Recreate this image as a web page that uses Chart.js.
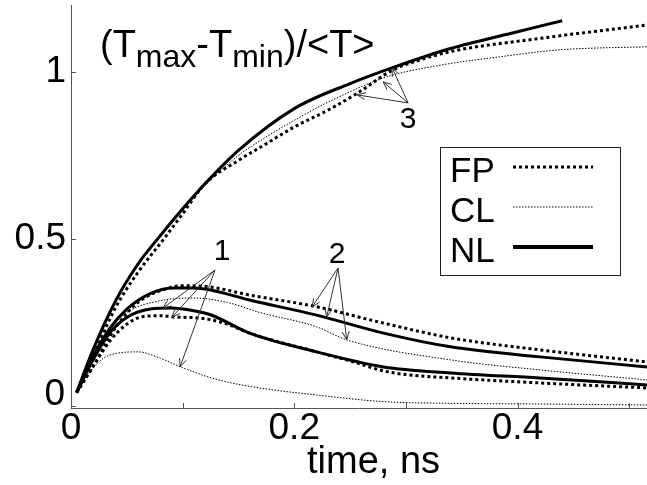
<!DOCTYPE html>
<html>
<head>
<meta charset="utf-8">
<script src="https://cdn.jsdelivr.net/npm/chart.js@4.4.0/dist/chart.umd.min.js"></script>
<style>
  html, body { margin: 0; padding: 0; background: #fff; }
  #wrap { width: 647px; height: 485px; }
</style>
</head>
<body>
<div id="wrap"><canvas id="c"></canvas></div>
<script>
const FONT = "'Liberation Sans', Arial, sans-serif";

// time in ns, value = (Tmax-Tmin)/<T>
// group 3 (upper curves)
const tNL3 = [0.005, 0.02, 0.04, 0.06, 0.08, 0.1, 0.12, 0.15, 0.2, 0.25, 0.29, 0.34, 0.4, 0.44];
const vNL3 = [0.04, 0.17, 0.315, 0.425, 0.51, 0.59, 0.665, 0.765, 0.89, 0.965, 1.015, 1.07, 1.12, 1.153];
const tFP3 = [0.005, 0.02, 0.04, 0.06, 0.082, 0.1, 0.12, 0.15, 0.175, 0.2, 0.23, 0.256, 0.288, 0.313, 0.342, 0.42, 0.516];
const vFP3 = [0.04, 0.15, 0.295, 0.40, 0.495, 0.575, 0.665, 0.735, 0.785, 0.835, 0.885, 0.935, 1.005, 1.036, 1.062, 1.10, 1.14];
const tCL3 = [0.005, 0.02, 0.04, 0.06, 0.08, 0.1, 0.12, 0.15, 0.17, 0.2, 0.232, 0.283, 0.331, 0.384, 0.438, 0.516];
const vCL3 = [0.04, 0.17, 0.315, 0.42, 0.505, 0.585, 0.66, 0.75, 0.795, 0.855, 0.912, 0.985, 1.02, 1.045, 1.066, 1.075];

// group 2
const tNL2 = [0.005, 0.02, 0.035, 0.05, 0.07, 0.092, 0.11, 0.125, 0.16, 0.22, 0.28, 0.34, 0.42, 0.516];
const vNL2 = [0.04, 0.15, 0.233, 0.29, 0.335, 0.353, 0.353, 0.347, 0.317, 0.272, 0.218, 0.177, 0.147, 0.117];
const tFP2 = [0.005, 0.02, 0.04, 0.06, 0.08, 0.1, 0.12, 0.16, 0.22, 0.28, 0.34, 0.42, 0.516];
const vFP2 = [0.04, 0.12, 0.235, 0.31, 0.345, 0.36, 0.358, 0.332, 0.297, 0.248, 0.204, 0.168, 0.132];
const tCL2 = [0.005, 0.02, 0.035, 0.05, 0.08, 0.11, 0.14, 0.169, 0.22, 0.247, 0.34, 0.42, 0.516];
const vCL2 = [0.04, 0.15, 0.23, 0.28, 0.315, 0.323, 0.31, 0.28, 0.237, 0.198, 0.138, 0.108, 0.078];

// group 1
const tNL1 = [0.005, 0.02, 0.035, 0.05, 0.071, 0.09, 0.11, 0.125, 0.16, 0.22, 0.28, 0.34, 0.42, 0.516];
const vNL1 = [0.04, 0.14, 0.22, 0.265, 0.29, 0.293, 0.285, 0.273, 0.218, 0.162, 0.117, 0.099, 0.084, 0.063];
const tFP1 = [0.005, 0.02, 0.035, 0.05, 0.065, 0.08, 0.095, 0.116, 0.14, 0.16, 0.22, 0.25, 0.28, 0.3, 0.34, 0.42, 0.516];
const vFP1 = [0.04, 0.12, 0.195, 0.245, 0.268, 0.27, 0.266, 0.263, 0.245, 0.218, 0.162, 0.135, 0.105, 0.094, 0.084, 0.069, 0.054];
const tCL1 = [0.005, 0.012, 0.02, 0.03, 0.04, 0.06, 0.08, 0.098, 0.13, 0.169, 0.22, 0.28, 0.34, 0.42, 0.516];
const vCL1 = [0.04, 0.08, 0.115, 0.145, 0.157, 0.162, 0.143, 0.117, 0.08, 0.054, 0.033, 0.013, 0.008, 0.006, 0.003];

const xTicks = [0, 0.1, 0.2, 0.3, 0.4, 0.5];
const xLabels = ['0', '', '0.2', '', '0.4', ''];
const yTicks = [0, 0.5, 1];
const yLabels = ['', '0.5', '1'];   // the "0" is drawn a bit higher, as in the figure

// numbered arrows: label, label position, arrow start, arrow tips (data units)
const notes = [
  { text: '1', at: [0.1353, 0.461], from: [0.129, 0.407], tips: [[0.0824, 0.293], [0.0905, 0.266], [0.0977, 0.117]] },
  { text: '2', at: [0.2384, 0.452], from: [0.2392, 0.413], tips: [[0.216, 0.296], [0.229, 0.266], [0.247, 0.198]] },
  { text: '3', at: [0.302, 0.856], from: [0.302, 0.907], tips: [[0.2876, 1.012], [0.2796, 0.970], [0.2563, 0.931]] }
];

const legendItems = ['FP', 'CL', 'NL'];

const lineStyle = {
  FP: { borderWidth: 3, borderDash: [3, 3] },
  CL: { borderWidth: 1, borderDash: [1.5, 1.5] },
  NL: { borderWidth: 3, borderDash: [] }
};

const series = [
  ['FP', tFP3, vFP3], ['CL', tCL3, vCL3], ['NL', tNL3, vNL3],
  ['FP', tFP2, vFP2], ['CL', tCL2, vCL2], ['NL', tNL2, vNL2],
  ['FP', tFP1, vFP1], ['CL', tCL1, vCL1], ['NL', tNL1, vNL1]
];

const datasets = series.map(([model, ts, vs]) => ({
  label: model,
  data: ts.map((t, i) => ({ x: t, y: vs[i] })),
  borderColor: '#000',
  borderWidth: lineStyle[model].borderWidth,
  borderDash: lineStyle[model].borderDash,
  pointRadius: 0,
  fill: false,
  cubicInterpolationMode: 'monotone'
}));

function line(ctx, x1, y1, x2, y2) {
  ctx.beginPath(); ctx.moveTo(x1, y1); ctx.lineTo(x2, y2); ctx.stroke();
}

const decor = {
  id: 'decor',
  afterDraw(chart) {
    const { ctx, chartArea: a, scales: { x, y } } = chart;
    ctx.save();

    // ticks pointing inwards
    ctx.strokeStyle = '#555'; ctx.lineWidth = 1; ctx.setLineDash([]);
    xTicks.forEach(v => {
      const px = Math.round(x.getPixelForValue(v)) + 0.5;
      line(ctx, px, a.bottom, px, a.bottom - 5);
    });
    yTicks.forEach(v => {
      const py = Math.round(y.getPixelForValue(v)) + 0.5;
      line(ctx, a.left, py, a.left + 5, py);
    });

    ctx.fillStyle = '#000';
    ctx.font = `37px ${FONT}`;
    ctx.textAlign = 'right'; ctx.textBaseline = 'middle';
    ctx.fillText('0', a.left - 6, y.getPixelForValue(0) - 11);

    // axis title
    ctx.font = `38px ${FONT}`;
    ctx.textAlign = 'left'; ctx.textBaseline = 'alphabetic';
    ctx.fillText('time, ns', 307, 473);

    // formula in the top left corner
    const parts = [['(T', 38, 0], ['max', 32, 10], ['-T', 38, 0], ['min', 32, 10], [')/<T>', 38, 0]];
    let tx = 100;
    parts.forEach(([s, size, dy]) => {
      ctx.font = `${size}px ${FONT}`;
      ctx.fillText(s, tx, 57 + dy);
      tx += ctx.measureText(s).width;
    });

    // numbered arrows
    ctx.strokeStyle = '#333'; ctx.lineWidth = 1;
    ctx.font = `30px ${FONT}`;
    ctx.textAlign = 'center'; ctx.textBaseline = 'middle';
    notes.forEach(n => {
      ctx.fillText(n.text, x.getPixelForValue(n.at[0]), y.getPixelForValue(n.at[1]));
      const ox = x.getPixelForValue(n.from[0]), oy = y.getPixelForValue(n.from[1]);
      n.tips.forEach(([tt, tv]) => {
        const px = x.getPixelForValue(tt), py = y.getPixelForValue(tv);
        line(ctx, ox, oy, px, py);
        const ang = Math.atan2(py - oy, px - ox);
        [0.4, -0.4].forEach(d => {
          line(ctx, px, py, px - 9 * Math.cos(ang + d), py - 9 * Math.sin(ang + d));
        });
      });
    });

    // legend box
    ctx.strokeStyle = '#222'; ctx.lineWidth = 1;
    ctx.strokeRect(440.5, 147.5, 180, 128);
    ctx.font = `35px ${FONT}`;
    ctx.textAlign = 'left'; ctx.textBaseline = 'alphabetic';
    legendItems.forEach((m, i) => {
      const base = 182 + i * 40;
      ctx.fillStyle = '#000';
      ctx.fillText(m, 450, base);
      const st = lineStyle[m];
      ctx.strokeStyle = '#000';
      ctx.lineWidth = m === 'NL' ? 4 : st.borderWidth;
      ctx.setLineDash(st.borderDash);
      line(ctx, 513, base - 15, 593, base - 15);
    });
    ctx.restore();
  }
};

new Chart(document.getElementById('c'), {
  type: 'line',
  data: { datasets },
  plugins: [decor],
  options: {
    responsive: true,
    maintainAspectRatio: false,
    animation: false,
    layout: { padding: { top: 5, right: 0, left: 0, bottom: 0 } },
    plugins: { legend: { display: false }, tooltip: { enabled: false } },
    scales: {
      x: {
        type: 'linear', min: 0, max: 0.516,
        afterBuildTicks: s => { s.ticks = xTicks.map(v => ({ value: v })); },
        afterFit: s => { s.height = 77; s.paddingLeft = 0; s.paddingRight = 0; },
        ticks: {
          autoSkip: false, maxRotation: 0, padding: 2, color: '#000',
          font: { family: FONT, size: 37, lineHeight: 1 },
          callback: v => xLabels[xTicks.indexOf(v)] ?? ''
        },
        grid: { display: true, drawOnChartArea: false, drawTicks: false },
        border: { color: '#555' }
      },
      y: {
        type: 'linear', min: -0.006, max: 1.2,
        afterBuildTicks: s => { s.ticks = yTicks.map(v => ({ value: v })); },
        afterFit: s => { s.width = 71; s.paddingTop = 0; s.paddingBottom = 0; },
        ticks: {
          autoSkip: false, padding: 5, color: '#000',
          font: { family: FONT, size: 37, lineHeight: 1 },
          callback: v => yLabels[yTicks.indexOf(v)] ?? ''
        },
        grid: { display: true, drawOnChartArea: false, drawTicks: false },
        border: { color: '#555' }
      }
    }
  }
});
</script>
</body>
</html>
